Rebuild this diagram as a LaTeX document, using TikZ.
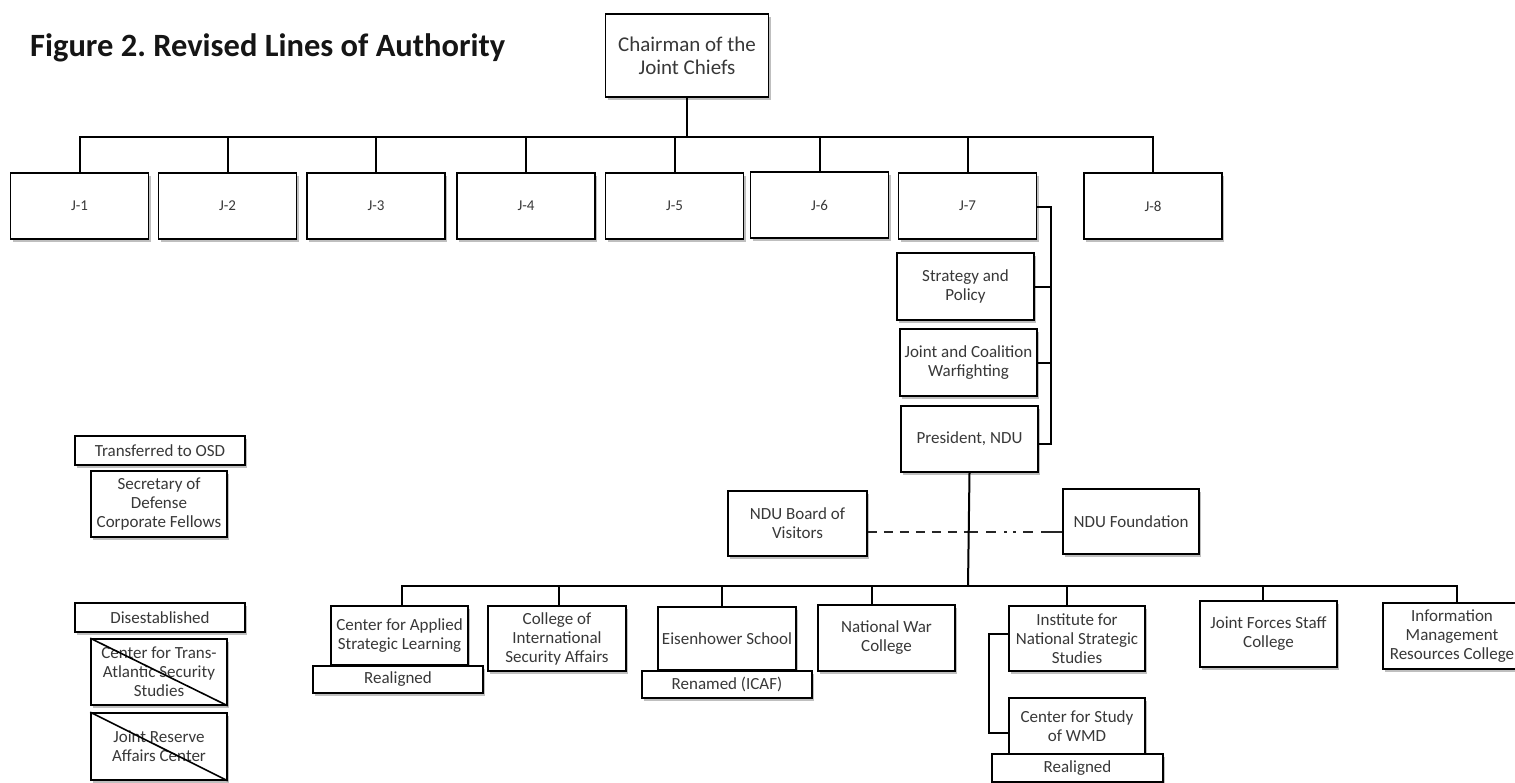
\documentclass[tikz,border=0pt]{standalone}
\usepackage{fontspec}
\setmainfont{Carlito}
\usetikzlibrary{shadows}
\frenchspacing
\newcommand\lblfont{\fontsize{17}{19}\selectfont}
\newcommand\jfont{\fontsize{15}{17}\selectfont}
\newcommand\chfont{\fontsize{21}{23}\selectfont}
\newcommand\ttlfont{\fontsize{32.5}{38}\selectfont\bfseries}
\definecolor{txtgray}{HTML}{383838}
\definecolor{titleblk}{HTML}{151515}
\tikzset{
  box/.style={draw=black, line width=1.6pt, fill=white, align=center, inner sep=0pt,
    text=txtgray, font=\lblfont,
    drop shadow={shadow xshift=2pt, shadow yshift=-3pt, opacity=0.25, fill=black}},
  jbox/.style={box, font=\jfont, minimum width=138pt, minimum height=66pt},
  conn/.style={draw=black, line width=2pt},
  dashconn/.style={draw=black!85, line width=2.6pt, dash pattern=on 9pt off 7pt},
  dashdotconn/.style={draw=black!85, line width=2.6pt,
    dash pattern=on 10pt off 8pt on 10pt off 8pt on 3pt off 6pt on 3pt off 7pt on 10pt off 8pt on 12pt off 0pt},
  strike/.style={draw=black, line width=1.6pt}
}
\begin{document}
\begin{tikzpicture}[x=1pt, y=-1pt]
\useasboundingbox (0,0) rectangle (1515,782);
\clip (0,0) rectangle (1515,782);
\fill[white] (0,0) rectangle (1515,782);

% title
\node[anchor=base west, font=\ttlfont, text=titleblk, inner sep=0pt] (title) at (30,56) {Figure 2. Revised Lines of Authority};

% top
\node[box, font=\chfont, minimum width=163pt, minimum height=83pt] (ch) at (687,55.5) {Chairman of the\\Joint Chiefs};

\node[jbox] (j1) at (79.5,206) {J-1};
\node[jbox] (j2) at (227.5,206) {J-2};
\node[jbox] (j3) at (376,206) {J-3};
\node[jbox] (j4) at (526,206) {J-4};
\node[jbox] (j5) at (674.5,206) {J-5};
\node[jbox] (j6) at (819.5,205) {J-6};
\node[jbox] (j7) at (967.5,206) {J-7};
\node[jbox] (j8) at (1153,206) {J-8};

\coordinate (bus) at (687,137);
\draw[conn] (ch.south) -- (bus);
\foreach \j in {j1,j2,j3,j4,j5,j6,j7,j8} \draw[conn] (\j.north) |- (bus);

% J-7 column
\node[box, minimum width=137pt, minimum height=67pt] (strat) at (965.5,286.5) {Strategy and\\Policy};
\node[box, minimum width=137pt, minimum height=67pt] (jcw) at (968.5,362.5) {Joint and Coalition\\Warfighting};
\node[box, minimum width=137pt, minimum height=66pt] (pres) at (969.5,439) {President, NDU};

\coordinate (brt) at (1051,207);
\coordinate (brb) at (1051,444);
\draw[conn] (j7.east |- brt) -- (brt) -- (brb) -- (brb -| pres.east);
\draw[conn] (strat.east) -- (strat.east -| brt);
\draw[conn] (jcw.east) -- (jcw.east -| brt);

% board and foundation
\node[box, minimum width=139pt, minimum height=65pt] (bov) at (797.5,523.5) {NDU Board of\\Visitors};
\node[box, minimum width=136pt, minimum height=65pt] (fdn) at (1131,521.5) {NDU Foundation};

\coordinate (lbus) at (968,586);
\coordinate (dmid) at (968,532);
\draw[dashconn] (dmid -| bov.east) -- (dmid);
\draw[dashdotconn] (dmid) -- (dmid -| fdn.west);
\draw[conn] (pres.south) -- (lbus);

% lower row
\node[box, minimum width=137pt, minimum height=59pt] (casl) at (399.5,635.5) {Center for Applied\\Strategic Learning};
\node[box, minimum width=170pt, minimum height=27pt] (real1) at (398,679.5) {Realigned};
\node[box, minimum width=138pt, minimum height=65pt] (cisa) at (557,638.5) {College of\\International\\Security Affairs};
\node[box, minimum width=138pt, minimum height=63pt] (eis) at (727,638.5) {Eisenhower School};
\node[box, minimum width=170pt, minimum height=27pt] (ren) at (727,684.5) {Renamed (ICAF)};
\node[box, minimum width=137pt, minimum height=66pt] (nwc) at (886.5,638) {National War\\College};
\node[box, minimum width=136pt, minimum height=65pt] (inss) at (1077,638.5) {Institute for\\National Strategic\\Studies};
\node[box, minimum width=136pt, minimum height=56pt] (wmd) at (1077,726) {Center for Study\\of WMD};
\node[box, minimum width=171pt, minimum height=28pt] (real2) at (1077.5,768) {Realigned};
\node[box, minimum width=137pt, minimum height=66pt] (jfsc) at (1268.5,634) {Joint Forces Staff\\College};
\node[box, minimum width=138pt, minimum height=66pt] (imrc) at (1452,636) {Information\\Management\\Resources College};

\draw[conn] ([xshift=2pt]casl.north) |- (lbus);
\draw[conn] ([xshift=2pt]cisa.north) |- (lbus);
\draw[conn] ([xshift=-5pt]eis.north) |- (lbus);
\draw[conn] ([xshift=-15pt]nwc.north) |- (lbus);
\draw[conn] ([xshift=-10pt]inss.north) |- (lbus);
\draw[conn] ([xshift=-6pt]jfsc.north) |- (lbus);
\draw[conn] ([xshift=5pt]imrc.north) |- (lbus);

\coordinate (ib1) at (989,634);
\coordinate (ib2) at (989,733);
\draw[conn] (ib1 -| inss.west) -- (ib1) -- (ib2) -- (ib2 -| wmd.west);

% legend
\node[box, minimum width=170pt, minimum height=29pt] (osd) at (160,450.5) {Transferred to OSD};
\node[box, minimum width=136pt, minimum height=66pt] (sdcf) at (159,504) {Secretary of\\Defense\\Corporate Fellows};
\node[box, minimum width=170pt, minimum height=29pt] (dis) at (160,617.5) {Disestablished};
\node[box, minimum width=136pt, minimum height=66pt] (tas) at (159,672) {Center for Trans-\\Atlantic Security\\Studies};
\node[box, minimum width=136pt, minimum height=67pt] (jra) at (159,746.5) {Joint Reserve\\Affairs Center};
\draw[strike] (tas.north west) -- (tas.south east);
\draw[strike] (jra.north west) -- (jra.south east);
\end{tikzpicture}
\end{document}
